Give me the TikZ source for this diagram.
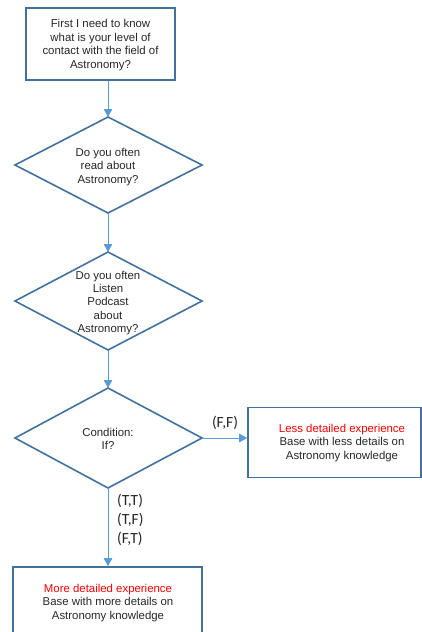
\documentclass[tikz,border=0pt]{standalone}
\usepackage{fontspec}
\setmainfont{Liberation Sans}
\newfontfamily\labelfont{Carlito}
\usetikzlibrary{shapes.geometric,arrows.meta}
\definecolor{boxblue}{HTML}{41719C}
\definecolor{arrowblue}{HTML}{5B9BD5}
\definecolor{redtxt}{HTML}{FF0000}
\tikzset{
  x=1pt, y=-1pt,
  txt/.style={font=\fontsize{11.4}{13.4}\selectfont, align=center, text=black!85},
  stepbox/.style={draw=boxblue, line width=1.6pt, rectangle, inner sep=0pt},
  conn/.style={draw=arrowblue, line width=1pt, -{Triangle[width=8.5pt,length=8pt]}},
  cond/.style={font=\labelfont\fontsize{15.5}{19}\selectfont, text=black!85, align=left}
}
\begin{document}
\begin{tikzpicture}
\useasboundingbox (0,0) rectangle (422,632);
\begin{scope}
\clip (0,0) rectangle (422,632);
% top box
\node[stepbox, minimum width=149pt, minimum height=72pt] (start) at (100.5,44) {};
\node[txt] (starttxt) at (100.5,45) {First I need to know\\what is your level of\\contact with the field of\\Astronomy?};
% decision 1
\draw[boxblue, line width=1.6pt] (15,165) -- (108,117) -- (202,165) -- (108,213) -- cycle;
\node[txt] (d1) at (108,167) {Do you often\\read about\\Astronomy?};
\coordinate (d1t) at (108,117);
\coordinate (d1b) at (108,213);
% decision 2
\draw[boxblue, line width=1.6pt] (15,301) -- (108,252) -- (202,301) -- (108,350) -- cycle;
\node[txt] (d2) at (108,303) {Do you often\\Listen\\Podcast\\about\\Astronomy?};
\coordinate (d2t) at (108,252);
\coordinate (d2b) at (108,350);
% decision 3
\draw[boxblue, line width=1.6pt] (15,438) -- (108,388) -- (202,438) -- (108,488) -- cycle;
\node[txt] (d3) at (108,439) {Condition:\\If?};
\coordinate (d3t) at (108,388);
\coordinate (d3b) at (108,488);
\coordinate (d3r) at (202,438);
% right box
\node[stepbox, minimum width=173pt, minimum height=70pt] (less) at (334.5,442.5) {};
\node[txt] (lesstxt) at (342,443) {\textcolor{redtxt}{Less detailed experience}\\Base with less details on\\Astronomy knowledge};
% bottom box
\node[stepbox, minimum width=189pt, minimum height=72pt] (more) at (107.5,603) {};
\node[txt] (moretxt) at (108,603) {\textcolor{redtxt}{More detailed experience}\\Base with more details on\\Astronomy knowledge};
\end{scope}
% connectors
\draw[conn] (start.south -| d1t) -- (d1t);
\draw[conn] (d1b) -- (d2t);
\draw[conn] (d2b) -- (d3t);
\draw[conn] (d3r) -- (d3r -| less.west);
\draw[conn] (d3b) -- (more.north -| d3b);
% labels
\node[cond] (ff) at (225,423) {(F,F)};
\node[cond, anchor=north west, inner sep=0pt] (tt) at (117,494) {(T,T)\\(T,F)\\(F,T)};
\end{tikzpicture}
\end{document}
